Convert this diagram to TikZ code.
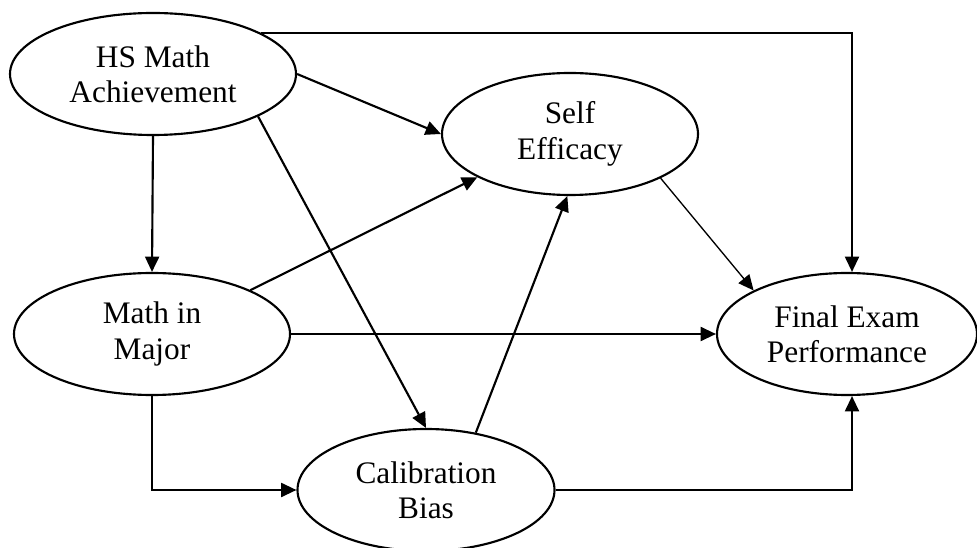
\documentclass[tikz,border=0pt]{standalone}
\usepackage{fontspec}
\setmainfont{Liberation Serif}
\usetikzlibrary{shapes.geometric,arrows.meta}

\tikzset{
  var/.style={draw, ellipse, line width=1.6pt, inner sep=0pt,
    minimum height=91.5pt, align=center,
    font=\fontsize{23.5}{26.5}\selectfont},
  link/.style={line width=1.6pt, -{Triangle[length=11.5pt,width=10.5pt]}},
  thinlink/.style={line width=1pt, -{Triangle[length=11.5pt,width=10.5pt]}}
}

\begin{document}
\begin{tikzpicture}[x=0.75pt, y=-0.75pt]
  \useasboundingbox (0,0) rectangle (977,548);
  \clip (0,0) rectangle (977,548);

  % latent variables
  \node[var, minimum width=214.5pt] (hs)    at (153,74)  {HS Math\\Achievement};
  \node[var, minimum width=192pt]   (self)  at (570,134) {Self\\Efficacy};
  \node[var, minimum width=207pt]   (major) at (152,334) {Math in\\Major};
  \node[var, minimum width=195pt]   (final) at (847,334) {Final Exam\\Performance};
  \node[var, minimum width=192.75pt](calib) at (426,490) {Calibration\\Bias};

  % paths
  \draw[link] (hs.21) -| ([xshift=3.75pt]final.north);
  \draw[link] (hs.east) -- (self.west);
  \draw[link] (hs.south) -- (major.north);
  \draw[link] (hs.-22) -- (calib.north);
  \draw[link] (major.24) -- (self.205);
  \draw[link] (major.east) -- (final.west);
  \draw[link] (major.south) |- (calib.west);
  \draw[link] (calib.49) -- ([xshift=-2pt]self.south);
  \draw[thinlink] (self.-26) -- (final.155);
  \draw[link] (calib.east) -| ([xshift=3.75pt]final.south);
\end{tikzpicture}
\end{document}
